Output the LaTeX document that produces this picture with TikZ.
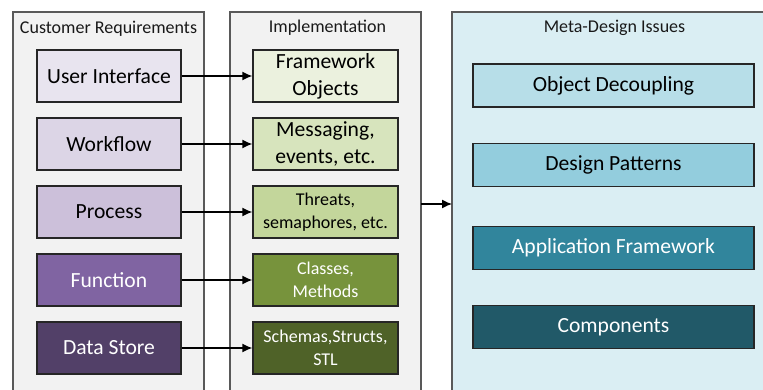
\documentclass[tikz,border=0pt]{standalone}
\usepackage{fontspec}
\setmainfont{Carlito}
\usetikzlibrary{arrows.meta}
\definecolor{panelgray}{HTML}{F2F2F2}
\definecolor{panelblue}{HTML}{DAEEF3}
\definecolor{cA}{HTML}{E8E4EF}
\definecolor{cB}{HTML}{DCD5E6}
\definecolor{cC}{HTML}{CCC0DA}
\definecolor{cD}{HTML}{8064A2}
\definecolor{cE}{HTML}{524068}
\definecolor{gA}{HTML}{EBF1DE}
\definecolor{gB}{HTML}{D7E4BD}
\definecolor{gC}{HTML}{C3D69B}
\definecolor{gD}{HTML}{77933C}
\definecolor{gE}{HTML}{4F6228}
\definecolor{bA}{HTML}{B7DEE8}
\definecolor{bB}{HTML}{93CDDD}
\definecolor{bC}{HTML}{31859C}
\definecolor{bD}{HTML}{215968}
\tikzset{
  panel/.style={draw=black!65, line width=1.2pt},
  box/.style={draw=black!85, line width=1.3pt, minimum height=52pt, inner sep=0pt, align=center, font=\fontsize{21.6}{27}\selectfont},
  lbox/.style={box, minimum width=144pt},
  mbox/.style={box, minimum width=145pt},
  rbox/.style={box, minimum width=281pt, minimum height=43pt},
  small/.style={font=\fontsize{18}{22.5}\selectfont},
  ttl/.style={font=\fontsize{18}{22}\selectfont, text=black!90},
  conn/.style={line width=1.3pt, -{Latex[length=10pt,width=9pt]}}
}
\begin{document}
\begin{tikzpicture}[x=1pt,y=-1pt]
\useasboundingbox (0,0) rectangle (763,390);
\fill[white] (0,0) rectangle (763,390);
% panels
\draw[panel, fill=panelgray] (13,12) rectangle (204,400);
\draw[panel, fill=panelgray] (230,12) rectangle (421,400);
\draw[panel, fill=panelblue] (452,12) rectangle (780,400);
\node[ttl] (t1) at (108.5,29) {Customer Requirements};
\node[ttl] (t2) at (327.5,28) {Implementation};
\node[ttl] (t3) at (614.5,28) {Meta-Design Issues};
% left boxes
\node[lbox, fill=cA] (l1) at (109,76) {User Interface};
\node[lbox, fill=cB] (l2) at (109,144) {Workflow};
\node[lbox, fill=cC] (l3) at (109,212) {Process};
\node[lbox, fill=cD, text=white] (l4) at (109,280) {Function};
\node[lbox, fill=cE, text=white] (l5) at (109,348) {Data Store};
% middle boxes
\node[mbox, fill=gA] (m1) at (325.5,76) {Framework\\Objects};
\node[mbox, fill=gB] (m2) at (325.5,144) {Messaging,\\events, etc.};
\node[mbox, fill=gC, small] (m3) at (325.5,212) {Threats,\\semaphores, etc.};
\node[mbox, fill=gD, small, text=white] (m4) at (325.5,280) {Classes,\\Methods};
\node[mbox, fill=gE, small, text=white] (m5) at (325.5,348) {Schemas,Structs,\\STL};
% right boxes
\node[rbox, fill=bA] (r1) at (613.5,85.5) {Object Decoupling};
\node[rbox, fill=bB] (r2) at (613.5,165) {Design Patterns};
\node[rbox, fill=bC, text=white] (r3) at (613.5,248) {Application Framework};
\node[rbox, fill=bD, text=white] (r4) at (613.5,327) {Components};
% connectors
\foreach \i in {1,...,5} {\draw[conn] (l\i.east) -- (m\i.west);}
\coordinate (pm) at (421,204);
\coordinate (pr) at (452,204);
\draw[conn] (pm) -- (pr);
\end{tikzpicture}
\end{document}
